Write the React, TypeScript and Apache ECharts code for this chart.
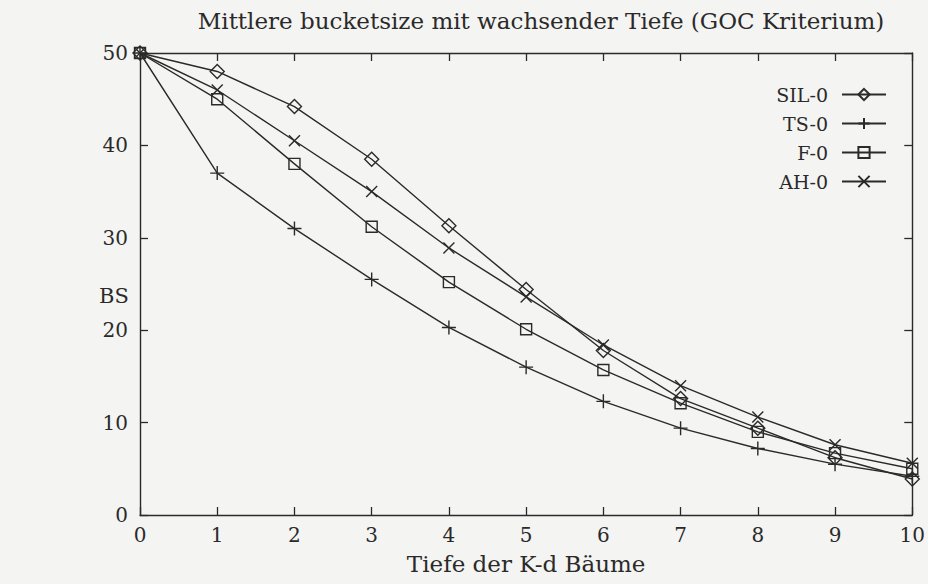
import React, { useEffect, useRef } from "react";
import * as echarts from "echarts";

const depths = [0, 1, 2, 3, 4, 5, 6, 7, 8, 9, 10];
const seriesNames = ["SIL-0", "TS-0", "F-0", "AH-0"];
const sil0 = [50, 48, 44.2, 38.5, 31.3, 24.4, 17.8, 12.6, 9.4, 6.2, 3.9];
const ts0 = [50, 37, 31, 25.5, 20.3, 16, 12.3, 9.4, 7.2, 5.5, 4.2];
const f0 = [50, 45, 38, 31.2, 25.2, 20.1, 15.7, 12.1, 9.0, 6.7, 5.0];
const ah0 = [50, 46, 40.5, 35, 28.9, 23.6, 18.4, 14, 10.6, 7.6, 5.6];
const yTicks = [0, 10, 20, 30, 40, 50];
const titleText = "Mittlere bucketsize mit wachsender Tiefe (GOC Kriterium)";
const xName = "Tiefe der K-d Bäume";
const yName = "BS";

const INK = "#2a2a2a";
const FONT = "DejaVu Serif";

const symbols = [
  { symbol: "diamond", size: [14, 14] },
  { symbol: "path://M0,6H12M6,0V12", size: [14, 14] },
  { symbol: "rect", size: [11, 11] },
  { symbol: "path://M0,0L12,12M12,0L0,12", size: [11, 11] },
];

export default function App() {
  const ref = useRef<HTMLDivElement>(null);
  useEffect(() => {
    if (!ref.current) return;
    const chart = echarts.init(ref.current, null, { renderer: "svg" });
    const allData = [sil0, ts0, f0, ah0];
    const axisCommon = {
      type: "value",
      min: 0,
      splitLine: { show: false },
      axisLine: { show: true, onZero: false, lineStyle: { color: INK, width: 1.4 } },
      axisTick: { show: true, inside: true, length: 8, lineStyle: { color: INK, width: 1.3 } },
    };
    chart.setOption({
      animation: false,
      backgroundColor: "#f4f4f2",
      textStyle: { fontFamily: FONT, color: INK },
      title: {
        text: titleText,
        left: 536,
        textAlign: "center",
        top: 4,
        textStyle: { fontFamily: FONT, fontSize: 23, fontWeight: "normal", color: INK },
      },
      grid: { left: 140, right: 13, top: 53, bottom: 69 },
      legend: {
        orient: "vertical",
        right: 41,
        top: 85,
        padding: 0,
        align: "right",
        itemWidth: 44,
        itemHeight: 14,
        itemGap: 10,
        data: seriesNames,
        textStyle: {
          fontFamily: FONT,
          fontSize: 19,
          color: INK,
          width: 80,
          align: "right",
          padding: [0, 9, 0, 0],
        },
      },
      xAxis: [
        {
          ...axisCommon,
          max: 10,
          interval: 1,
          position: "bottom",
          name: xName,
          nameLocation: "middle",
          nameGap: 37,
          nameTextStyle: { fontFamily: FONT, fontSize: 23, color: INK },
          axisLabel: { fontFamily: FONT, fontSize: 20, color: INK, margin: 10 },
        },
        {
          ...axisCommon,
          max: 10,
          interval: 1,
          position: "top",
          axisLabel: { show: false },
        },
      ],
      yAxis: [
        {
          ...axisCommon,
          max: 50,
          interval: 10,
          position: "left",
          axisLabel: {
            fontFamily: FONT,
            fontSize: 20,
            color: INK,
            margin: 12,
            formatter: (v: number) => (yTicks.includes(v) ? String(v) : ""),
          },
        },
        {
          ...axisCommon,
          max: 50,
          interval: 10,
          position: "right",
          axisLabel: { show: false },
        },
      ],
      graphic: [
        {
          type: "text",
          left: 99,
          top: 285,
          style: { text: yName, fontFamily: FONT, fontSize: 21, fill: INK },
        },
      ],
      series: seriesNames.map((name, i) => ({
        name,
        type: "line",
        xAxisIndex: 0,
        yAxisIndex: 0,
        data: depths.map((d, j) => [d, allData[i][j]]),
        symbol: symbols[i].symbol,
        symbolSize: symbols[i].size,
        showAllSymbol: true,
        lineStyle: { color: INK, width: 1.4 },
        itemStyle: { color: "transparent", borderColor: INK, borderWidth: 1.4 },
        emphasis: { disabled: true },
      })),
    });
    return () => chart.dispose();
  }, []);
  return (
    <div
      ref={ref}
      style={{ position: "absolute", left: 0, top: 0, width: 928, height: 584 }}
    />
  );
}
